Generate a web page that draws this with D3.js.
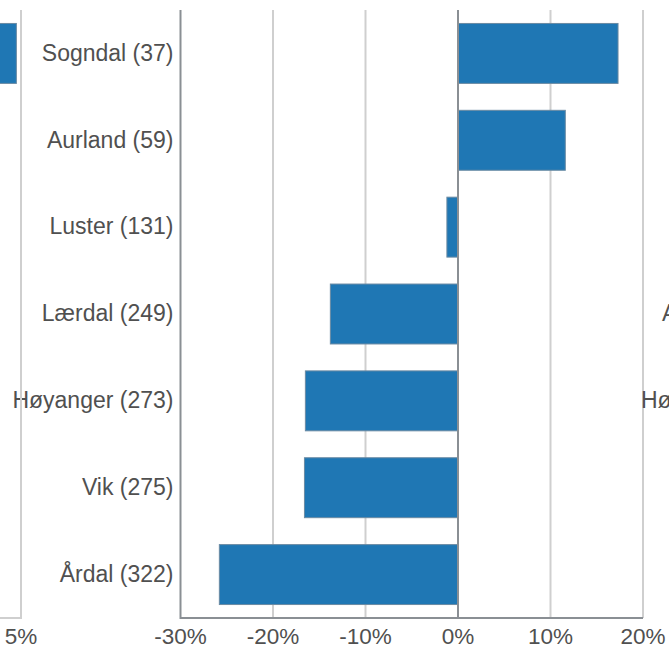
<!DOCTYPE html>
<html>
<head>
<meta charset="utf-8">
<script src="https://cdn.jsdelivr.net/npm/d3@7"></script>
<style>
  body { margin: 0; background: #fff; }
  svg { display: block; font-family: "Liberation Sans", Arial, sans-serif; }
</style>
</head>
<body>
<svg id="chart" width="669" height="647"></svg>
<script>
const municipalities = [
  "Sogndal (37)",
  "Aurland (59)",
  "Luster (131)",
  "Lærdal (249)",
  "Høyanger (273)",
  "Vik (275)",
  "Årdal (322)",
];
const changeValues = [17.3, 11.6, -1.2, -13.8, -16.5, -16.6, -25.8];
const xTicks = [-30, -20, -10, 0, 10, 20];

// neighbour panels, only partly visible at the edges
const leftPanelRows = ["Sogndal (37)"];
const leftPanelValues = [4.5];
const leftPanelTicks = [5];
const rightPanelLabels = ["Aurland", "Høyanger"];
const rightPanelRows = [3, 4];

const barColor = "#1f77b4";
const textColor = "#505050";

const svg = d3.select("#chart");
const plotTop = 10,
  plotBottom = 618,
  pxPer10 = 92.5;

const x = d3.scaleLinear().domain([-30, 20]).range([180.5, 180.5 + 5 * pxPer10]);
const y = d3
  .scaleBand()
  .domain(municipalities)
  .range([plotTop, plotBottom])
  .paddingInner(0.31)
  .paddingOuter(0.155);

// main panel gridlines
svg
  .selectAll(".grid")
  .data(xTicks.filter((d) => d !== 0 && d !== -30))
  .enter()
  .append("line")
  .attr("class", "grid")
  .attr("x1", (d) => x(d))
  .attr("x2", (d) => x(d))
  .attr("y1", plotTop)
  .attr("y2", plotBottom)
  .style("stroke", "#cfcfcf")
  .style("stroke-width", 2);

svg
  .selectAll(".bar")
  .data(changeValues)
  .enter()
  .append("rect")
  .attr("class", "bar")
  .attr("x", (d) => x(Math.min(0, d)))
  .attr("width", (d) => Math.abs(x(d) - x(0)))
  .attr("y", (d, i) => y(municipalities[i]))
  .attr("height", y.bandwidth())
  .style("fill", barColor)
  .style("stroke", "#6a8aa3")
  .style("stroke-width", 1);

// zero line and axis frame
svg
  .append("line")
  .attr("x1", x(0))
  .attr("x2", x(0))
  .attr("y1", plotTop)
  .attr("y2", plotBottom)
  .style("stroke", "#8a8f94")
  .style("stroke-width", 2);

svg
  .append("path")
  .attr("d", `M${x(-30)},${plotTop}V${plotBottom}H${x(20)}`)
  .style("fill", "none")
  .style("stroke", "#8a8f94")
  .style("stroke-width", 2);

svg
  .selectAll(".tick-label")
  .data(xTicks)
  .enter()
  .append("text")
  .attr("class", "tick-label")
  .attr("x", (d) => x(d))
  .attr("y", 636)
  .attr("dy", "0.36em")
  .attr("text-anchor", "middle")
  .style("font-size", "22.5px")
  .style("fill", textColor)
  .text((d) => d + "%");

svg
  .selectAll(".cat-label")
  .data(municipalities)
  .enter()
  .append("text")
  .attr("class", "cat-label")
  .attr("x", x(-30) - 7)
  .attr("y", (d) => y(d) + y.bandwidth() / 2 - 1)
  .attr("dy", "0.36em")
  .attr("text-anchor", "end")
  .style("font-size", "23px")
  .style("fill", textColor)
  .text((d) => d);

// left neighbour panel
const xLeft = d3.scaleLinear().domain([0, 5]).range([21 - pxPer10 / 2, 21]);

svg
  .selectAll(".left-bar")
  .data(leftPanelValues)
  .enter()
  .append("rect")
  .attr("class", "left-bar")
  .attr("x", xLeft(0))
  .attr("width", (d) => xLeft(d) - xLeft(0))
  .attr("y", (d, i) => y(leftPanelRows[i]))
  .attr("height", y.bandwidth())
  .style("fill", barColor)
  .style("stroke", "#6a8aa3");

svg
  .append("path")
  .attr("d", `M0,${plotBottom}H${xLeft(5)}V${plotTop}`)
  .style("fill", "none")
  .style("stroke", "#cfcfcf")
  .style("stroke-width", 2);

svg
  .selectAll(".left-tick")
  .data(leftPanelTicks)
  .enter()
  .append("text")
  .attr("class", "left-tick")
  .attr("x", (d) => xLeft(d))
  .attr("y", 636)
  .attr("dy", "0.36em")
  .attr("text-anchor", "middle")
  .style("font-size", "22.5px")
  .style("fill", textColor)
  .text((d) => d + "%");

// right neighbour panel labels
svg
  .selectAll(".right-label")
  .data(rightPanelLabels)
  .enter()
  .append("text")
  .attr("class", "right-label")
  .attr("x", (d, i) => (i === 0 ? 662 : 641))
  .attr("y", (d, i) => y(municipalities[rightPanelRows[i]]) + y.bandwidth() / 2 - 1)
  .attr("dy", "0.36em")
  .style("font-size", "23px")
  .style("fill", textColor)
  .text((d) => d);
</script>
</body>
</html>
